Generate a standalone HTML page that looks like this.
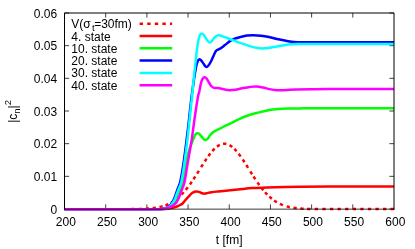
<!DOCTYPE html>
<html><head><meta charset="utf-8"><title>plot</title>
<style>
html,body{margin:0;padding:0;background:#fff;}
body{width:415px;height:249px;overflow:hidden;position:relative;font-family:"Liberation Sans",sans-serif;}
</style></head><body>
<svg width="415" height="249" viewBox="0 0 415 249" style="position:absolute;left:0;top:0;display:block;will-change:transform">
<rect width="415" height="249" fill="#ffffff"/>
<path d="M105.69 209.00v-4.60M105.69 13.00v4.60M146.88 209.00v-4.60M146.88 13.00v4.60M188.06 209.00v-4.60M188.06 13.00v4.60M229.25 209.00v-4.60M229.25 13.00v4.60M270.44 209.00v-4.60M270.44 13.00v4.60M311.62 209.00v-4.60M311.62 13.00v4.60M352.81 209.00v-4.60M352.81 13.00v4.60M64.50 209.00h4.60M394.00 209.00h-4.60M64.50 176.33h4.60M394.00 176.33h-4.60M64.50 143.67h4.60M394.00 143.67h-4.60M64.50 111.00h4.60M394.00 111.00h-4.60M64.50 78.33h4.60M394.00 78.33h-4.60M64.50 45.67h4.60M394.00 45.67h-4.60M64.50 13.00h4.60M394.00 13.00h-4.60" stroke="#000" stroke-width="0.75" fill="none"/>
<g fill="none" stroke-width="2.5" stroke-linejoin="round" stroke-linecap="butt">
<path d="M131.25 209.05L132.08 209.04L132.90 209.03L133.72 209.02L134.55 209.01M138.45 208.95L139.28 208.93L140.10 208.91L140.92 208.88L141.75 208.86M145.65 208.69L146.48 208.65L147.30 208.60L148.12 208.54L148.95 208.49M152.66 208.14L153.48 208.04L154.30 207.94L155.12 207.82L155.94 207.70M159.50 207.03L160.30 206.85L161.10 206.65L161.90 206.44L162.70 206.22M165.37 205.34L166.14 205.06L166.90 204.75L167.66 204.43L168.43 204.09M170.99 202.79L171.69 202.39L172.40 201.98L173.11 201.54L173.81 201.08M176.43 199.19L177.07 198.68L177.70 198.16L178.33 197.62L178.97 197.07M181.47 194.67L182.04 194.09L182.60 193.50L183.16 192.89L183.73 192.26M185.78 189.86L186.29 189.23L186.80 188.59L187.31 187.94L187.82 187.27M189.85 184.53L190.33 183.87L190.80 183.20L191.27 182.52L191.75 181.83M193.50 179.23L193.95 178.54L194.40 177.85L194.85 177.16L195.30 176.46M197.12 173.59L197.56 172.89L198.00 172.20L198.44 171.50L198.88 170.80M201.12 167.20L201.56 166.49L202.00 165.79L202.44 165.10L202.88 164.40M204.79 161.43L205.24 160.74L205.70 160.05L206.16 159.36L206.61 158.69M208.41 156.12L208.91 155.44L209.40 154.77L209.89 154.12L210.39 153.48M212.37 151.08L212.93 150.44L213.50 149.83L214.07 149.24L214.63 148.68M217.00 146.63L217.70 146.13L218.40 145.67L219.10 145.25L219.80 144.89M223.05 143.86L223.88 143.78L224.70 143.77L225.52 143.83L226.35 143.97M229.53 145.16L230.22 145.55L230.90 145.99L231.58 146.47L232.27 147.00M234.38 148.88L234.94 149.45L235.50 150.04L236.06 150.66L236.62 151.30M238.72 153.87L239.21 154.52L239.70 155.17L240.19 155.84L240.68 156.52M242.69 159.44L243.15 160.12L243.60 160.80L244.05 161.49L244.51 162.19M246.32 165.04L246.76 165.73L247.20 166.43L247.64 167.13L248.08 167.83M250.32 171.43L250.76 172.13L251.20 172.83L251.64 173.53L252.08 174.23M253.50 176.46L253.95 177.16L254.40 177.85L254.85 178.54L255.30 179.23M257.45 182.40L257.92 183.09L258.40 183.77L258.88 184.44L259.35 185.10M261.27 187.66L261.78 188.32L262.30 188.97L262.82 189.61L263.33 190.23M265.07 192.26L265.64 192.89L266.20 193.50L266.76 194.09L267.33 194.67M269.35 196.63L269.97 197.19L270.60 197.74L271.23 198.27L271.85 198.78M274.11 200.48L274.81 200.96L275.50 201.41L276.19 201.85L276.89 202.27M279.88 203.86L280.64 204.21L281.40 204.54L282.16 204.86L282.92 205.15M286.70 206.38L287.50 206.60L288.30 206.80L289.10 206.99L289.90 207.16M293.46 207.79L294.28 207.91L295.10 208.01L295.92 208.11L296.74 208.20M300.35 208.52L301.18 208.58L302.00 208.63L302.82 208.68L303.65 208.72M307.15 208.86L307.98 208.89L308.80 208.91L309.62 208.93L310.45 208.95M314.74 209.02L315.57 209.03L316.39 209.04L317.21 209.04L318.04 209.05M322.33 209.07L323.16 209.08L323.98 209.08L324.80 209.08L325.63 209.09M329.92 209.09L330.75 209.09L331.57 209.09L332.39 209.10L333.22 209.10M337.51 209.10L338.34 209.10L339.16 209.10L339.98 209.10L340.81 209.10M345.10 209.10L345.93 209.10L346.75 209.10L347.57 209.10L348.40 209.10M352.69 209.10L353.52 209.10L354.34 209.10L355.16 209.10L355.99 209.10M360.28 209.10L361.11 209.10L361.93 209.10L362.75 209.10L363.58 209.10M367.87 209.10L368.70 209.10L369.52 209.10L370.34 209.10L371.17 209.10M375.46 209.10L376.29 209.10L377.11 209.10L377.94 209.10L378.76 209.10M383.05 209.10L383.88 209.10L384.70 209.10L385.53 209.10L386.35 209.10M390.64 209.10L391.47 209.10L392.29 209.10L393.12 209.10L393.94 209.10" stroke="#ff0000"/>
<path d="M64.50 209.15C72.08 209.15 94.08 209.15 110.00 209.15C125.92 209.15 150.33 209.23 160.00 209.15C169.67 209.07 165.42 209.06 168.00 208.70C170.58 208.34 173.67 207.53 175.50 207.00C177.33 206.47 177.87 206.05 179.00 205.50C180.13 204.95 181.22 204.62 182.30 203.70C183.38 202.78 184.38 201.27 185.50 200.00C186.62 198.73 187.83 197.30 189.00 196.10C190.17 194.90 191.33 193.55 192.50 192.80C193.67 192.05 194.92 191.75 196.00 191.60C197.08 191.45 198.00 191.63 199.00 191.90C200.00 192.17 201.07 192.90 202.00 193.20C202.93 193.50 203.60 193.75 204.60 193.70C205.60 193.65 206.80 193.15 208.00 192.90C209.20 192.65 210.30 192.42 211.80 192.20C213.30 191.98 215.07 191.80 217.00 191.60C218.93 191.40 219.93 191.33 223.40 191.00C226.87 190.67 232.98 190.08 237.80 189.60C242.62 189.12 247.47 188.45 252.30 188.10C257.13 187.75 261.35 187.70 266.80 187.50C272.25 187.30 279.47 187.03 285.00 186.90C290.53 186.77 292.50 186.75 300.00 186.70C307.50 186.65 314.33 186.62 330.00 186.60C345.67 186.58 383.33 186.60 394.00 186.60" stroke="#ff0000"/>
<path d="M64.50 209.15C72.08 209.15 94.58 209.15 110.00 209.15C125.42 209.15 148.17 209.21 157.00 209.15C165.83 209.09 161.08 209.09 163.00 208.80C164.92 208.51 167.00 207.95 168.50 207.40C170.00 206.85 170.93 206.23 172.00 205.50C173.07 204.77 174.05 204.08 174.90 203.00C175.75 201.92 176.42 200.50 177.10 199.00C177.78 197.50 178.35 195.75 179.00 194.00C179.65 192.25 180.30 190.50 181.00 188.50C181.70 186.50 182.43 185.75 183.20 182.00C183.97 178.25 184.83 170.50 185.60 166.00C186.37 161.50 187.03 158.17 187.80 155.00C188.57 151.83 189.47 149.17 190.20 147.00C190.93 144.83 191.65 143.40 192.20 142.00C192.75 140.60 193.10 139.60 193.50 138.60C193.90 137.60 194.18 136.80 194.60 136.00C195.02 135.20 195.48 134.27 196.00 133.80C196.52 133.33 197.03 133.07 197.70 133.20C198.37 133.33 199.12 133.73 200.00 134.60C200.88 135.47 202.12 137.48 203.00 138.40C203.88 139.32 204.55 140.00 205.30 140.10C206.05 140.20 206.72 139.80 207.50 139.00C208.28 138.20 208.97 136.52 210.00 135.30C211.03 134.08 212.37 132.67 213.70 131.70C215.03 130.73 216.30 130.37 218.00 129.50C219.70 128.63 221.90 127.48 223.90 126.50C225.90 125.52 227.38 124.87 230.00 123.60C232.62 122.33 236.38 120.33 239.60 118.90C242.82 117.47 246.08 116.08 249.30 115.00C252.52 113.92 255.68 113.20 258.90 112.40C262.12 111.60 265.38 110.75 268.60 110.20C271.82 109.65 275.00 109.37 278.20 109.10C281.40 108.83 284.17 108.72 287.80 108.60C291.43 108.48 294.63 108.44 300.00 108.40C305.37 108.36 304.33 108.36 320.00 108.35C335.67 108.34 381.67 108.35 394.00 108.35" stroke="#00ff00"/>
<path d="M64.50 209.15C72.08 209.15 94.92 209.15 110.00 209.15C125.08 209.15 146.50 209.18 155.00 209.15C163.50 209.12 159.17 209.14 161.00 209.00C162.83 208.86 164.58 208.80 166.00 208.30C167.42 207.80 168.53 206.88 169.50 206.00C170.47 205.12 171.08 204.08 171.80 203.00C172.52 201.92 173.12 201.00 173.80 199.50C174.48 198.00 175.23 195.83 175.90 194.00C176.57 192.17 177.08 190.50 177.80 188.50C178.52 186.50 179.32 185.75 180.20 182.00C181.08 178.25 182.03 173.00 183.10 166.00C184.17 159.00 185.72 146.83 186.60 140.00C187.48 133.17 187.93 129.00 188.40 125.00C188.87 121.00 189.03 119.33 189.40 116.00C189.77 112.67 190.22 108.33 190.60 105.00C190.98 101.67 191.15 100.17 191.70 96.00C192.25 91.83 193.20 84.67 193.90 80.00C194.60 75.33 195.33 70.97 195.90 68.00C196.47 65.03 196.70 63.67 197.30 62.20C197.90 60.73 198.72 59.32 199.50 59.20C200.28 59.08 201.25 60.62 202.00 61.50C202.75 62.38 203.32 63.60 204.00 64.50C204.68 65.40 205.35 66.73 206.10 66.90C206.85 67.07 207.65 66.48 208.50 65.50C209.35 64.52 210.33 62.67 211.20 61.00C212.07 59.33 212.92 57.17 213.70 55.50C214.48 53.83 215.18 51.98 215.90 51.00C216.62 50.02 217.30 50.00 218.00 49.60C218.70 49.20 219.35 49.03 220.10 48.60C220.85 48.17 221.70 47.58 222.50 47.00C223.30 46.42 223.48 46.20 224.90 45.10C226.32 44.00 229.15 41.55 231.00 40.40C232.85 39.25 234.38 38.78 236.00 38.20C237.62 37.62 238.87 37.33 240.70 36.90C242.53 36.47 244.87 35.88 247.00 35.60C249.13 35.32 251.17 35.18 253.50 35.20C255.83 35.22 258.43 35.40 261.00 35.70C263.57 36.00 265.97 36.40 268.90 37.00C271.83 37.60 275.38 38.60 278.60 39.30C281.82 40.00 284.97 40.72 288.20 41.20C291.43 41.68 292.70 42.02 298.00 42.20C303.30 42.38 304.00 42.28 320.00 42.30C336.00 42.32 381.67 42.30 394.00 42.30" stroke="#0000ff"/>
<path d="M64.50 209.15C72.08 209.15 94.75 209.15 110.00 209.15C125.25 209.15 147.33 209.18 156.00 209.15C164.67 209.12 160.17 209.14 162.00 209.00C163.83 208.86 165.58 208.80 167.00 208.30C168.42 207.80 169.57 206.88 170.50 206.00C171.43 205.12 171.85 204.08 172.55 203.00C173.25 201.92 173.99 201.00 174.70 199.50C175.41 198.00 176.10 195.83 176.80 194.00C177.50 192.17 178.15 190.50 178.90 188.50C179.65 186.50 180.45 185.75 181.30 182.00C182.15 178.25 182.98 173.00 184.00 166.00C185.02 159.00 186.57 146.83 187.40 140.00C188.23 133.17 188.57 129.00 189.00 125.00C189.43 121.00 189.60 119.33 189.95 116.00C190.30 112.67 190.74 108.33 191.10 105.00C191.46 101.67 191.68 100.17 192.10 96.00C192.52 91.83 192.80 87.67 193.60 80.00C194.40 72.33 196.08 56.67 196.90 50.00C197.72 43.33 197.98 42.53 198.50 40.00C199.02 37.47 199.43 35.90 200.00 34.80C200.57 33.70 201.23 33.33 201.90 33.40C202.57 33.47 203.15 34.10 204.00 35.20C204.85 36.30 206.08 38.77 207.00 40.00C207.92 41.23 208.67 42.47 209.50 42.60C210.33 42.73 211.08 41.73 212.00 40.80C212.92 39.87 213.93 37.92 215.00 37.00C216.07 36.08 217.23 35.45 218.40 35.30C219.57 35.15 220.57 35.65 222.00 36.10C223.43 36.55 225.28 37.37 227.00 38.00C228.72 38.63 230.13 39.08 232.30 39.90C234.47 40.72 237.05 41.87 240.00 42.90C242.95 43.93 247.33 45.28 250.00 46.10C252.67 46.92 253.97 47.40 256.00 47.80C258.03 48.20 259.87 48.50 262.20 48.50C264.53 48.50 267.27 48.18 270.00 47.80C272.73 47.42 275.57 46.75 278.60 46.20C281.63 45.65 285.00 44.87 288.20 44.50C291.40 44.13 292.50 44.07 297.80 44.00C303.10 43.93 303.97 44.08 320.00 44.10C336.03 44.12 381.67 44.10 394.00 44.10" stroke="#00ffff"/>
<path d="M64.50 209.15C72.08 209.15 94.75 209.15 110.00 209.15C125.25 209.15 147.17 209.23 156.00 209.15C164.83 209.07 160.75 208.99 163.00 208.70C165.25 208.41 167.83 207.93 169.50 207.40C171.17 206.87 171.93 206.23 173.00 205.50C174.07 204.77 175.07 204.08 175.95 203.00C176.83 201.92 177.58 200.50 178.30 199.00C179.03 197.50 179.63 195.75 180.30 194.00C180.97 192.25 181.60 190.50 182.30 188.50C183.00 186.50 183.68 185.75 184.50 182.00C185.32 178.25 186.01 173.00 187.20 166.00C188.39 159.00 190.57 146.83 191.65 140.00C192.73 133.17 193.15 129.00 193.70 125.00C194.25 121.00 194.47 119.33 194.95 116.00C195.43 112.67 196.07 108.33 196.60 105.00C197.12 101.67 197.67 98.17 198.10 96.00C198.53 93.83 198.72 94.17 199.20 92.00C199.68 89.83 200.37 85.30 201.00 83.00C201.63 80.70 202.38 79.17 203.00 78.20C203.62 77.23 204.12 77.15 204.70 77.20C205.28 77.25 205.78 77.62 206.50 78.50C207.22 79.38 208.25 81.28 209.00 82.50C209.75 83.72 210.28 84.95 211.00 85.80C211.72 86.65 212.38 87.23 213.30 87.60C214.22 87.97 215.33 87.87 216.50 88.00C217.67 88.13 218.88 88.13 220.30 88.40C221.72 88.67 223.57 89.30 225.00 89.60C226.43 89.90 227.23 90.17 228.90 90.20C230.57 90.23 232.58 90.17 235.00 89.80C237.42 89.43 240.90 88.48 243.40 88.00C245.90 87.52 247.83 87.15 250.00 86.90C252.17 86.65 254.23 86.40 256.40 86.50C258.57 86.60 260.83 87.07 263.00 87.50C265.17 87.93 267.40 88.68 269.40 89.10C271.40 89.52 273.32 89.82 275.00 90.00C276.68 90.18 277.50 90.20 279.50 90.20C281.50 90.20 284.35 90.10 287.00 90.00C289.65 89.90 291.57 89.73 295.40 89.60C299.23 89.47 304.23 89.28 310.00 89.20C315.77 89.12 316.00 89.12 330.00 89.10C344.00 89.08 383.33 89.10 394.00 89.10" stroke="#ff00ff"/>
<path d="M139.60 23.80H172.20" stroke="#ff0000" stroke-dasharray="3.4 4.2"/>
<path d="M139.60 36.07H172.20" stroke="#ff0000"/>
<path d="M139.60 48.34H172.20" stroke="#00ff00"/>
<path d="M139.60 60.61H172.20" stroke="#0000ff"/>
<path d="M139.60 72.88H172.20" stroke="#00ffff"/>
<path d="M139.60 85.15H172.20" stroke="#ff00ff"/>
</g>
<g stroke="#000" stroke-width="1" fill="none">
<path d="M64.50 209.65V13.00H394.00V209.65"/>
<path d="M64.00 209.15H394.50" stroke-width="0.8"/>
</g>
<g style="will-change:transform" font-family="'Liberation Sans', sans-serif" font-size="12" fill="#000">
<text x="57.2" y="213.60" text-anchor="end">0</text>
<text x="57.2" y="180.93" text-anchor="end">0.01</text>
<text x="57.2" y="148.27" text-anchor="end">0.02</text>
<text x="57.2" y="115.60" text-anchor="end">0.03</text>
<text x="57.2" y="82.93" text-anchor="end">0.04</text>
<text x="57.2" y="50.27" text-anchor="end">0.05</text>
<text x="57.2" y="17.60" text-anchor="end">0.06</text>
<text x="65.80" y="226.2" text-anchor="middle">200</text>
<text x="106.99" y="226.2" text-anchor="middle">250</text>
<text x="148.18" y="226.2" text-anchor="middle">300</text>
<text x="189.36" y="226.2" text-anchor="middle">350</text>
<text x="230.55" y="226.2" text-anchor="middle">400</text>
<text x="271.74" y="226.2" text-anchor="middle">450</text>
<text x="312.93" y="226.2" text-anchor="middle">500</text>
<text x="354.11" y="226.2" text-anchor="middle">550</text>
<text x="395.30" y="226.2" text-anchor="middle">600</text>
<text x="229.2" y="244.4" text-anchor="middle">t [fm]</text>
<text x="71.3" y="28.30">V(σ<tspan font-size="9.6" dy="3" dx="1.3">t</tspan><tspan dy="-3" dx="-0.5">=30fm)</tspan></text>
<text x="71.3" y="40.56">4. state</text>
<text x="71.3" y="52.82">10. state</text>
<text x="71.3" y="65.08">20. state</text>
<text x="71.3" y="77.34">30. state</text>
<text x="71.3" y="89.60">40. state</text>
<text transform="translate(17 111.4) rotate(-90)" text-anchor="middle">|c<tspan font-size="9.6" dy="3">n</tspan><tspan dy="-3">|</tspan><tspan font-size="9.6" dy="-6">2</tspan></text>
</g>
</svg>
</body></html>
